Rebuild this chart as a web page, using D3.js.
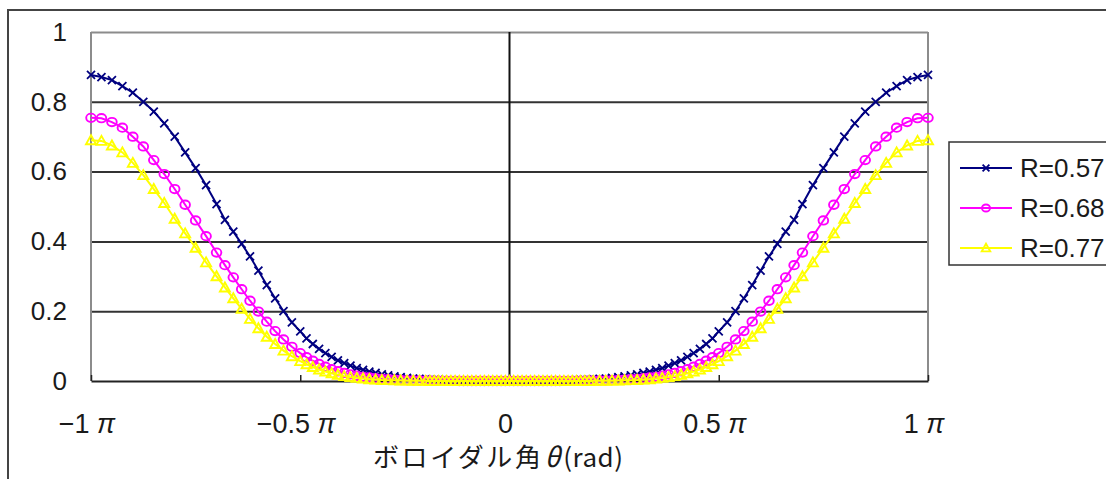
<!DOCTYPE html>
<html>
<head>
<meta charset="utf-8">
<script src="https://cdn.jsdelivr.net/npm/d3@7"></script>
<style>
  html, body { margin: 0; padding: 0; background: #ffffff; }
  svg { display: block; }
  text { fill: #1a1a1a; }
</style>
</head>
<body>
<svg id="chart" width="1106" height="479"></svg>
<script>
// Poloidal angle θ in units of π
const theta = [
  -1, -0.975, -0.95, -0.925, -0.9, -0.875, -0.85, -0.825, -0.8, -0.775, -0.75, -0.725,
  -0.7, -0.68, -0.66, -0.64, -0.62, -0.6, -0.58, -0.56, -0.54, -0.52, -0.5,
  -0.485, -0.47, -0.455, -0.44, -0.425, -0.41, -0.395, -0.38, -0.365, -0.35, -0.335,
  -0.32, -0.305, -0.29, -0.275, -0.26, -0.245, -0.23, -0.215, -0.2,
  -0.19, -0.18, -0.17, -0.16, -0.15, -0.14, -0.13, -0.12, -0.11, -0.1,
  -0.09, -0.08, -0.07, -0.06, -0.05, -0.04, -0.03, -0.02, -0.01,
  0,
  0.01, 0.02, 0.03, 0.04, 0.05, 0.06, 0.07, 0.08, 0.09,
  0.1, 0.11, 0.12, 0.13, 0.14, 0.15, 0.16, 0.17, 0.18, 0.19,
  0.2, 0.215, 0.23, 0.245, 0.26, 0.275, 0.29, 0.305, 0.32,
  0.335, 0.35, 0.365, 0.38, 0.395, 0.41, 0.425, 0.44, 0.455, 0.47, 0.485,
  0.5, 0.52, 0.54, 0.56, 0.58, 0.6, 0.62, 0.64, 0.66, 0.68, 0.7,
  0.725, 0.75, 0.775, 0.8, 0.825, 0.85, 0.875, 0.9, 0.925, 0.95, 0.975, 1
];

const valuesR057 = [
  0.877, 0.871, 0.862, 0.845, 0.826, 0.800, 0.772, 0.738, 0.700, 0.655, 0.610, 0.561,
  0.507, 0.462, 0.428, 0.393, 0.357, 0.316, 0.275, 0.237, 0.200, 0.168, 0.142,
  0.122, 0.106, 0.092, 0.080, 0.069, 0.059, 0.051, 0.044, 0.037, 0.032, 0.027,
  0.023, 0.019, 0.016, 0.013, 0.011, 0.009, 0.007, 0.006, 0.005,
  0.004, 0.0035, 0.003, 0.0025, 0.002, 0.0015, 0.001, 0.001, 0.0008, 0.0006,
  0.0005, 0.0004, 0.0003, 0.0002, 0.0001, 0, 0, 0, 0,
  0,
  0, 0, 0, 0, 0.0001, 0.0002, 0.0003, 0.0004, 0.0005,
  0.0006, 0.0008, 0.001, 0.001, 0.0015, 0.002, 0.0025, 0.003, 0.0035, 0.004,
  0.005, 0.006, 0.007, 0.009, 0.011, 0.013, 0.016, 0.019, 0.023,
  0.027, 0.032, 0.037, 0.044, 0.051, 0.059, 0.069, 0.080, 0.092, 0.106, 0.122,
  0.142, 0.168, 0.200, 0.237, 0.275, 0.316, 0.357, 0.393, 0.428, 0.462, 0.507,
  0.561, 0.610, 0.655, 0.700, 0.738, 0.772, 0.800, 0.826, 0.845, 0.862, 0.871, 0.877
];

const valuesR068 = [
  0.754, 0.753, 0.742, 0.726, 0.700, 0.672, 0.633, 0.593, 0.550, 0.505, 0.460, 0.415,
  0.368, 0.332, 0.297, 0.263, 0.230, 0.199, 0.170, 0.143, 0.119, 0.098, 0.080,
  0.068, 0.058, 0.049, 0.041, 0.034, 0.028, 0.023, 0.019, 0.015, 0.012, 0.010,
  0.008, 0.006, 0.005, 0.004, 0.003, 0.0025, 0.002, 0.0015, 0.001,
  0.0008, 0.0006, 0.0005, 0.0004, 0.0003, 0.0002, 0.0001, 0, 0, 0,
  0, 0, 0, 0, 0, 0, 0, 0, 0,
  0,
  0, 0, 0, 0, 0, 0, 0, 0, 0,
  0, 0, 0, 0.0001, 0.0002, 0.0003, 0.0004, 0.0005, 0.0006, 0.0008,
  0.001, 0.0015, 0.002, 0.0025, 0.003, 0.004, 0.005, 0.006, 0.008,
  0.010, 0.012, 0.015, 0.019, 0.023, 0.028, 0.034, 0.041, 0.049, 0.058, 0.068,
  0.080, 0.098, 0.119, 0.143, 0.170, 0.199, 0.230, 0.263, 0.297, 0.332, 0.368,
  0.415, 0.460, 0.505, 0.550, 0.593, 0.633, 0.672, 0.700, 0.726, 0.742, 0.753, 0.754
];

const valuesR077 = [
  0.690, 0.688, 0.675, 0.655, 0.625, 0.590, 0.550, 0.510, 0.465, 0.423, 0.382, 0.340,
  0.300, 0.268, 0.237, 0.207, 0.178, 0.151, 0.127, 0.106, 0.087, 0.071, 0.057,
  0.048, 0.040, 0.033, 0.027, 0.022, 0.018, 0.014, 0.011, 0.009, 0.007, 0.005,
  0.004, 0.003, 0.0025, 0.002, 0.0015, 0.001, 0.0008, 0.0006, 0.0004,
  0.0002, 0.0001, 0, 0, 0, 0, 0, 0, 0, 0,
  0, 0, 0, 0, 0, 0, 0, 0, 0,
  0,
  0, 0, 0, 0, 0, 0, 0, 0, 0,
  0, 0, 0, 0, 0, 0, 0, 0, 0.0001, 0.0002,
  0.0004, 0.0006, 0.0008, 0.001, 0.0015, 0.002, 0.0025, 0.003, 0.004,
  0.005, 0.007, 0.009, 0.011, 0.014, 0.018, 0.022, 0.027, 0.033, 0.040, 0.048,
  0.057, 0.071, 0.087, 0.106, 0.127, 0.151, 0.178, 0.207, 0.237, 0.268, 0.300,
  0.340, 0.382, 0.423, 0.465, 0.510, 0.550, 0.590, 0.625, 0.655, 0.675, 0.688, 0.690
];

const seriesNames = ["R=0.57", "R=0.68", "R=0.77"];
const seriesColors = ["#000080", "#ff00ff", "#ffff00"];
const seriesMarkers = ["cross", "circle", "triangle"];

const xTickValues = [-1, -0.5, 0, 0.5, 1];
const xTickLabels = ["−1 ", "−0.5 ", "0", "0.5 ", "1 "];
const yTickValues = [0, 0.2, 0.4, 0.6, 0.8, 1];
const yTickLabels = ["0", "0.2", "0.4", "0.6", "0.8", "1"];

const axisTitle = "ボロイダル角";

// ---- layout ----
const svg = d3.select("#chart");
const plot = { left: 91, right: 928, top: 32, bottom: 381 };

const x = d3.scaleLinear().domain([-1, 1]).range([plot.left, plot.right]);
const y = d3.scaleLinear().domain([0, 1]).range([plot.bottom, plot.top]);

// outer chart frame
svg.append("rect")
  .attr("x", 8).attr("y", 10)
  .attr("width", 1200).attr("height", 600)
  .attr("fill", "none").attr("stroke", "#444").attr("stroke-width", 2);

// y axis: labels and horizontal gridlines
const yAxis = d3.axisLeft(y)
  .tickValues(yTickValues)
  .tickSize(-(plot.right - plot.left))
  .tickPadding(24)
  .tickFormat((d, i) => yTickLabels[i]);

const gy = svg.append("g")
  .attr("transform", `translate(${plot.left},0)`)
  .call(yAxis);
gy.select(".domain").remove();
gy.selectAll(".tick line")
  .attr("stroke", d => (d === 1 ? "#8c8c8c" : "#333"))
  .attr("stroke-width", 2);
gy.selectAll(".tick").filter(d => d === 0).select("line").attr("stroke", "none");
gy.selectAll(".tick text")
  .attr("font-family", "'Liberation Sans', Arial, sans-serif")
  .attr("font-size", 26)
  .attr("fill", "#1a1a1a");

// side borders of the plot area
svg.append("line")
  .attr("x1", x(-1)).attr("x2", x(-1)).attr("y1", y(1)).attr("y2", y(0))
  .attr("stroke", "#8c8c8c").attr("stroke-width", 2);
svg.append("line")
  .attr("x1", x(1)).attr("x2", x(1)).attr("y1", y(1)).attr("y2", y(0))
  .attr("stroke", "#8c8c8c").attr("stroke-width", 2);

// vertical axis line through θ = 0
svg.append("line")
  .attr("x1", x(0)).attr("x2", x(0)).attr("y1", y(1)).attr("y2", y(0))
  .attr("stroke", "#111").attr("stroke-width", 2);

// x axis with short inward ticks
const xAxis = d3.axisBottom(x)
  .tickValues(xTickValues)
  .tickSizeInner(-6)
  .tickSizeOuter(0)
  .tickFormat("");
const gx = svg.append("g")
  .attr("transform", `translate(0,${y(0)})`)
  .call(xAxis);
gx.select(".domain").attr("stroke", "#222").attr("stroke-width", 2);
gx.selectAll(".tick line").attr("stroke", "#222").attr("stroke-width", 1.5);

// x tick labels with italic π
const xl = svg.append("g").selectAll("text")
  .data(xTickValues)
  .join("text")
  .attr("x", d => x(d) - 4)
  .attr("y", 433)
  .attr("text-anchor", "middle")
  .attr("font-family", "'Liberation Sans', Arial, sans-serif")
  .attr("font-size", 27);
xl.append("tspan").text((d, i) => xTickLabels[i]);
xl.filter(d => d !== 0).append("tspan").attr("font-style", "italic").text("π");

// axis title
const title = svg.append("text")
  .attr("x", 373).attr("y", 467)
  .attr("font-family", "'Noto Sans CJK JP', sans-serif")
  .attr("font-size", 26);
title.append("tspan").attr("letter-spacing", 2.6).text(axisTitle);
title.append("tspan").attr("font-style", "italic").attr("dx", 1).attr("font-size", 27).text("θ");
title.append("tspan").attr("dx", 3).attr("letter-spacing", 0.5).text("(rad)");

// ---- series ----
const seriesValues = [valuesR057, valuesR068, valuesR077];
const series = seriesNames.map((name, i) => ({
  name,
  color: seriesColors[i],
  marker: seriesMarkers[i],
  points: theta.map((t, j) => ({ t, v: seriesValues[i][j] }))
}));

function drawMarker(sel, kind, color, k = 1) {
  if (kind === "cross") {
    const a = 4 * k;
    sel.append("path")
      .attr("d", `M${-a},${-a}L${a},${a}M${-a},${a}L${a},${-a}`)
      .attr("stroke", color).attr("stroke-width", 1.8).attr("fill", "none");
  } else if (kind === "circle") {
    sel.append("ellipse")
      .attr("rx", 4.8 * k).attr("ry", 4.2 * k)
      .attr("stroke", color).attr("stroke-width", 1.9).attr("fill", "none");
  } else {
    const a = 5 * k;
    sel.append("path")
      .attr("d", `M0,${-a}L${a},${a * 0.8}L${-a},${a * 0.8}Z`)
      .attr("stroke", color).attr("stroke-width", 1.9).attr("fill", "none");
  }
}

const line = d3.line().x(d => x(d.t)).y(d => y(d.v));

series.forEach(s => {
  const g = svg.append("g");
  g.append("path")
    .datum(s.points)
    .attr("d", line)
    .attr("fill", "none")
    .attr("stroke", s.color)
    .attr("stroke-width", 2);
  g.selectAll("g.m")
    .data(s.points)
    .join("g")
    .attr("class", "m")
    .attr("transform", d => `translate(${x(d.t)},${y(d.v)})`)
    .each(function () { drawMarker(d3.select(this), s.marker, s.color); });
});

// ---- legend ----
const legend = svg.append("g");
legend.append("rect")
  .attr("x", 949).attr("y", 142)
  .attr("width", 220).attr("height", 123)
  .attr("fill", "#fff").attr("stroke", "#333").attr("stroke-width", 1.5);

const legendY = d3.scalePoint().domain(seriesNames).range([168, 248]);
const items = legend.selectAll("g.item")
  .data(series)
  .join("g")
  .attr("class", "item")
  .attr("transform", d => `translate(0,${legendY(d.name)})`);
items.append("line")
  .attr("x1", 960).attr("x2", 1012)
  .attr("stroke", d => d.color).attr("stroke-width", 2);
items.append("g")
  .attr("transform", "translate(986,0)")
  .each(function (d) { drawMarker(d3.select(this), d.marker, d.color, 0.85); });
items.append("text")
  .attr("x", 1020).attr("y", 0)
  .attr("dy", "0.35em")
  .attr("font-family", "'Liberation Sans', Arial, sans-serif")
  .attr("font-size", 26)
  .text(d => d.name);
</script>
</body>
</html>
